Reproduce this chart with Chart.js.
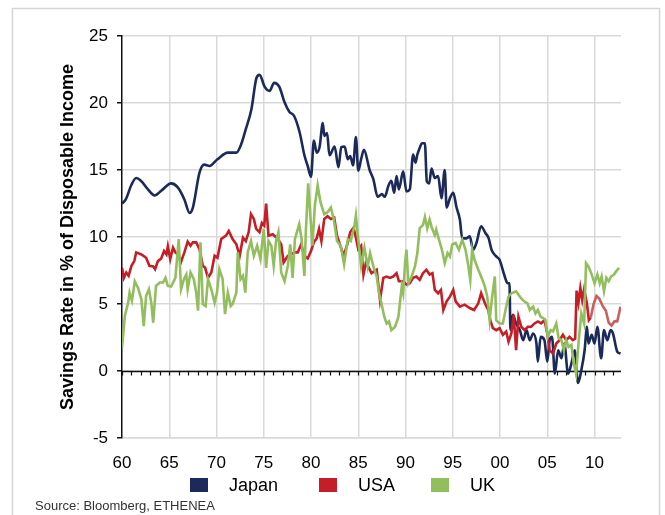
<!DOCTYPE html>
<html>
<head>
<meta charset="utf-8">
<script src="https://cdn.jsdelivr.net/npm/chart.js@4.4.0/dist/chart.umd.min.js"></script>
<style>
  html, body { margin: 0; padding: 0; background: #fff; }
</style>
</head>
<body>
<canvas id="savingsChart" width="665" height="515"></canvas>
<script>
// savings rate in % of disposable income, [year, value]
var japanData = [
  [1960.0,12.5],[1960.4,12.8],[1961.0,13.9],[1961.5,14.4],[1962.0,14.2],[1962.7,13.6],[1963.45,13.1],[1964.15,13.45],
  [1965.2,14.0],[1965.9,13.7],[1966.6,12.8],[1967.15,11.8],[1967.5,12.2],[1968.2,14.8],[1968.7,15.4],[1969.25,15.3],
  [1970.1,15.8],[1971.2,16.3],[1972.1,16.3],[1972.6,16.9],[1973.1,18.05],[1973.7,19.55],[1974.2,21.8],[1974.55,22.1],
  [1975.1,21.2],[1975.6,20.9],[1976.1,21.5],[1976.65,21.2],[1977.2,20.05],[1977.7,19.35],[1978.2,19.05],[1978.8,17.8],
  [1979.3,16.1],[1979.65,15.3],[1980.0,14.5],[1980.3,17.2],[1980.6,16.3],[1980.9,16.7],[1981.25,18.5],[1981.4,17.55],
  [1981.7,17.75],[1981.95,16.1],[1982.5,16.75],[1982.9,15.2],[1983.2,16.7],[1983.55,16.75],[1983.9,15.8],[1984.15,16.05],
  [1984.45,15.35],[1984.75,17.45],[1985.0,14.95],[1985.3,15.8],[1985.6,16.5],[1986.2,15.0],[1986.6,14.3],[1987.05,13.0],
  [1987.5,13.2],[1987.8,13.0],[1988.2,13.85],[1988.5,14.2],[1988.8,13.3],[1989.05,14.55],[1989.3,13.55],[1989.75,14.9],
  [1990.1,13.4],[1990.45,13.55],[1990.8,16.15],[1991.05,15.55],[1991.25,16.15],[1991.5,16.65],[1991.75,17.0],[1992.05,17.0],
  [1992.25,14.15],[1992.5,14.0],[1992.75,15.1],[1993.1,14.4],[1993.45,14.55],[1993.8,12.9],[1994.15,15.0],[1994.35,12.2],
  [1994.7,12.9],[1995.05,13.3],[1995.4,12.2],[1995.75,11.3],[1996.0,9.9],[1996.45,9.9],[1996.8,10.05],[1997.15,9.05],
  [1997.5,9.55],[1998.0,10.8],[1998.45,10.3],[1998.8,9.9],[1999.1,9.05],[1999.6,8.55],[1999.95,8.3],[2000.5,7.05],
  [2000.8,6.55],[2001.0,6.55],[2001.1,3.05],[2001.35,4.2],[2001.7,3.55],[2002.1,3.05],[2002.45,2.3],[2002.8,3.05],
  [2003.15,2.3],[2003.5,2.8],[2003.85,2.05],[2004.0,0.7],[2004.3,2.55],[2004.7,2.3],[2005.0,0.7],[2005.25,2.3],
  [2005.5,2.55],[2005.8,-0.2],[2006.15,1.55],[2006.5,0.95],[2006.8,2.05],[2007.2,-0.2],[2007.55,0.55],[2007.9,1.55],
  [2008.25,-0.9],[2008.6,0.05],[2008.95,1.55],[2009.2,3.3],[2009.35,2.05],[2009.7,2.7],[2010.0,2.05],[2010.3,3.3],
  [2010.7,0.95],[2011.0,3.05],[2011.35,2.3],[2011.7,3.05],[2011.95,2.8],[2012.4,1.45],[2012.75,1.3]
];

var usaData = [
  [1960.0,7.7],[1960.2,6.95],[1960.45,7.35],[1960.7,7.1],[1961.0,7.85],[1961.3,8.2],[1961.5,8.85],[1962.05,8.7],
  [1962.55,8.45],[1962.9,7.85],[1963.3,7.8],[1963.5,7.6],[1963.8,8.2],[1964.15,8.4],[1964.45,8.95],[1964.7,8.7],
  [1964.85,9.3],[1965.1,8.35],[1965.4,9.2],[1965.65,8.85],[1965.9,8.7],[1966.25,8.15],[1966.6,8.85],[1966.95,9.65],
  [1967.25,9.35],[1967.5,9.6],[1967.85,9.6],[1968.2,9.1],[1968.55,7.85],[1968.8,7.7],[1969.1,6.95],[1969.45,7.35],
  [1969.8,8.6],[1970.1,8.45],[1970.5,9.85],[1971.0,10.1],[1971.3,10.45],[1971.7,9.85],[1972.1,9.45],[1972.45,8.6],
  [1972.8,9.95],[1973.1,9.7],[1973.4,10.35],[1973.65,11.7],[1973.95,11.35],[1974.2,10.6],[1974.55,10.35],[1974.8,11.05],
  [1975.05,10.85],[1975.25,12.5],[1975.5,10.1],[1975.95,10.2],[1976.5,9.85],[1976.85,9.45],[1977.1,8.1],[1977.55,8.6],
  [1977.9,8.7],[1978.25,8.85],[1978.6,8.85],[1978.95,9.45],[1979.3,8.6],[1979.65,8.4],[1980.0,8.95],[1980.3,9.6],
  [1980.6,9.9],[1980.85,10.6],[1981.1,9.7],[1981.4,11.35],[1981.75,11.55],[1982.1,11.35],[1982.45,11.45],[1982.75,10.1],
  [1983.1,9.35],[1983.45,8.6],[1983.8,9.35],[1984.15,10.35],[1984.5,10.7],[1984.75,9.95],[1985.0,9.1],[1985.3,9.35],
  [1985.55,7.2],[1985.8,8.05],[1986.05,7.8],[1986.4,7.3],[1986.95,7.55],[1987.3,5.3],[1987.65,6.95],[1988.0,7.05],
  [1988.35,6.95],[1988.7,7.05],[1989.05,7.3],[1989.3,6.7],[1989.75,6.7],[1990.1,6.45],[1990.45,6.55],[1990.8,6.95],
  [1991.15,7.05],[1991.5,6.8],[1991.85,7.3],[1992.2,7.55],[1992.55,7.2],[1992.85,7.3],[1993.1,6.05],[1993.45,5.8],
  [1993.75,6.05],[1994.0,4.55],[1994.35,5.2],[1994.7,5.55],[1995.05,6.05],[1995.3,5.2],[1995.75,4.8],[1996.25,4.95],
  [1996.8,4.7],[1997.25,4.55],[1997.7,5.05],[1998.0,5.8],[1998.4,5.05],[1998.75,4.55],[1999.0,3.7],[1999.25,3.2],
  [1999.6,3.05],[1999.95,3.2],[2000.3,2.7],[2000.65,2.95],[2000.9,2.2],[2001.2,2.8],[2001.45,4.2],[2001.7,1.55],
  [2001.95,4.05],[2002.25,3.3],[2002.6,3.05],[2002.95,3.3],[2003.3,3.3],[2003.65,3.55],[2004.0,3.7],[2004.35,3.55],
  [2004.7,3.8],[2005.0,2.8],[2005.25,1.55],[2005.6,1.3],[2005.95,2.05],[2006.3,2.3],[2006.65,2.7],[2007.0,2.3],
  [2007.35,2.55],[2007.7,2.3],[2007.95,2.4],[2008.1,6.0],[2008.3,5.1],[2008.5,6.2],[2008.7,5.3],[2008.9,6.1],
  [2009.2,5.0],[2009.4,3.8],[2009.6,4.0],[2009.9,5.0],[2010.2,5.6],[2010.5,5.4],[2010.9,4.8],[2011.2,4.5],
  [2011.5,3.6],[2011.8,3.4],[2012.1,3.7],[2012.4,3.7],[2012.75,4.8]
];

var ukData = [
  [1960.0,1.75],[1960.3,4.1],[1960.65,5.1],[1960.8,5.85],[1961.05,5.25],[1961.35,6.7],[1961.7,6.2],[1962.05,5.35],
  [1962.3,3.35],[1962.55,5.6],[1962.85,6.1],[1963.1,5.1],[1963.3,3.6],[1963.6,6.35],[1964.0,6.6],[1964.35,6.6],
  [1964.6,6.95],[1964.85,6.35],[1965.2,6.3],[1965.65,6.95],[1966.0,9.85],[1966.25,6.1],[1966.55,6.85],[1966.8,7.2],
  [1966.95,6.1],[1967.25,7.35],[1967.6,6.85],[1967.85,5.85],[1968.05,4.5],[1968.3,9.6],[1968.55,5.0],[1968.85,4.85],
  [1969.1,6.85],[1969.45,6.1],[1969.8,5.1],[1970.05,5.85],[1970.3,7.6],[1970.65,6.85],[1970.9,4.25],[1971.2,5.85],
  [1971.5,4.85],[1971.7,5.0],[1972.1,5.85],[1972.25,8.85],[1972.55,6.85],[1972.8,7.1],[1973.05,5.85],[1973.3,8.85],
  [1973.65,9.7],[1973.95,8.6],[1974.3,9.35],[1974.65,8.35],[1975.0,10.6],[1975.25,7.7],[1975.5,9.7],[1975.8,9.35],
  [1976.05,7.85],[1976.3,9.7],[1976.55,10.35],[1976.85,7.35],[1977.2,6.7],[1977.55,7.85],[1977.8,9.45],[1978.05,6.95],
  [1978.3,9.85],[1978.75,10.95],[1979.0,9.85],[1979.3,7.1],[1979.45,10.35],[1979.7,14.0],[1980.0,10.85],[1980.15,9.35],
  [1980.4,12.3],[1980.7,13.85],[1981.0,12.6],[1981.4,11.7],[1981.75,11.85],[1982.1,12.2],[1982.4,11.35],[1982.75,9.7],
  [1983.15,9.35],[1983.5,7.95],[1983.9,9.85],[1984.2,9.7],[1984.6,10.85],[1984.75,11.6],[1984.95,10.1],[1985.3,7.85],
  [1985.65,9.2],[1986.0,7.8],[1986.25,8.8],[1986.6,7.8],[1986.95,7.05],[1987.2,5.8],[1987.45,5.05],[1987.75,4.05],
  [1988.0,3.55],[1988.25,3.7],[1988.5,3.05],[1988.9,3.3],[1989.25,4.05],[1989.4,5.05],[1989.6,6.3],[1989.75,5.8],
  [1989.95,8.05],[1990.1,9.05],[1990.3,6.55],[1990.65,7.05],[1991.0,7.8],[1991.25,8.8],[1991.5,10.65],[1991.85,10.9],
  [1992.05,11.5],[1992.3,10.65],[1992.55,11.3],[1992.8,10.65],[1993.1,10.15],[1993.25,10.55],[1993.5,9.9],[1993.85,9.05],
  [1994.15,8.05],[1994.45,8.8],[1994.7,8.55],[1994.95,9.45],[1995.3,9.55],[1995.65,9.05],[1996.0,9.8],[1996.35,9.05],
  [1996.6,8.05],[1996.85,6.8],[1997.05,9.05],[1997.3,8.3],[1997.7,7.55],[1998.0,7.05],[1998.4,6.3],[1998.65,5.55],
  [1998.9,3.8],[1999.15,5.45],[1999.45,7.05],[1999.6,3.8],[1999.95,3.55],[2000.3,3.55],[2000.65,4.8],[2000.9,5.55],
  [2001.2,5.8],[2001.7,5.95],[2002.2,5.45],[2002.55,5.2],[2002.9,5.05],[2003.15,4.55],[2003.5,4.8],[2003.75,4.3],
  [2004.0,4.55],[2004.3,4.05],[2004.55,3.95],[2004.8,3.8],[2005.05,2.55],[2005.35,3.05],[2005.6,2.95],[2005.95,3.55],
  [2006.2,2.45],[2006.5,2.3],[2006.75,1.55],[2007.0,2.3],[2007.25,1.8],[2007.55,1.95],[2007.8,0.55],[2008.05,-0.2],
  [2008.3,2.05],[2008.6,4.3],[2008.9,3.55],[2009.1,8.05],[2009.35,7.8],[2009.65,7.3],[2010.0,6.55],[2010.3,7.2],
  [2010.55,6.55],[2010.75,7.05],[2011.0,5.95],[2011.25,6.95],[2011.5,6.7],[2011.75,7.05],[2012.05,7.2],[2012.3,7.45],
  [2012.6,7.7]
];

var seriesNames = ["Japan", "USA", "UK"];
var yearTicks = [1960, 1965, 1970, 1975, 1980, 1985, 1990, 1995, 2000, 2005, 2010];
var fontFam = "'Liberation Sans', Arial, sans-serif";

var navy = "#1b2a5a";
var red = "#c41e26";
var redLight = "#c9605d";
var green = "#92be5e";

function toPoints(arr) {
  return arr.map(function (p) { return { x: p[0], y: p[1] }; });
}

// frame, zero line with year ticks, legend and source
var extras = {
  id: 'extras',
  beforeDraw: function (chart) {
    var c = chart.ctx;
    c.save();
    c.fillStyle = '#fff';
    c.fillRect(0, 0, chart.width, chart.height);
    c.strokeStyle = '#d6d6d6';
    c.lineWidth = 1.5;
    c.beginPath();
    c.moveTo(12.5, 530);
    c.lineTo(12.5, 8.5);
    c.lineTo(659.5, 8.5);
    c.lineTo(659.5, 530);
    c.stroke();
    c.restore();
  },
  beforeDatasetsDraw: function (chart) {
    var xs = chart.scales.x, ys = chart.scales.y, c = chart.ctx;
    var y0 = Math.round(ys.getPixelForValue(0)) + 0.5;
    c.save();
    c.strokeStyle = '#111';
    c.lineWidth = 1.5;
    c.beginPath();
    c.moveTo(xs.left, y0);
    c.lineTo(xs.right, y0);
    c.stroke();
    c.lineWidth = 1.2;
    c.beginPath();
    for (var yr = 1960; yr <= 2012; yr++) {
      var px = Math.round(xs.getPixelForValue(yr)) + 0.5;
      c.moveTo(px, y0);
      c.lineTo(px, y0 + 4);
    }
    c.stroke();
    c.restore();
  },
  afterDraw: function (chart) {
    var c = chart.ctx;
    var legendX = [190, 319, 431];
    var boxColors = [navy, red, green];
    c.save();
    c.font = '18px ' + fontFam;
    c.textBaseline = 'middle';
    c.textAlign = 'left';
    for (var i = 0; i < seriesNames.length; i++) {
      c.fillStyle = boxColors[i];
      c.fillRect(legendX[i], 478, 18, 14);
      c.fillStyle = '#000';
      c.fillText(seriesNames[i], legendX[i] + 39, 486);
    }
    c.font = '13px ' + fontFam;
    c.fillStyle = '#333';
    c.textBaseline = 'alphabetic';
    c.fillText('Source: Bloomberg, ETHENEA', 35, 510);
    c.restore();
  }
};

var canvas = document.getElementById("savingsChart");
var savingsChart = new Chart(canvas, {
  type: 'line',
  data: {
    datasets: [
      {
        label: seriesNames[0],
        data: toPoints(japanData),
        borderColor: navy,
        borderWidth: 2.6,
        pointRadius: 0,
        cubicInterpolationMode: 'monotone',
        fill: false,
        order: 3
      },
      {
        label: seriesNames[1],
        data: toPoints(usaData),
        borderColor: red,
        borderWidth: 2.6,
        pointRadius: 0,
        lineTension: 0,
        fill: false,
        order: 2,
        segment: {
          borderColor: function (ctx) { return ctx.p0.parsed.x >= 2009.6 ? redLight : red; }
        }
      },
      {
        label: seriesNames[2],
        data: toPoints(ukData),
        borderColor: green,
        borderWidth: 2.6,
        pointRadius: 0,
        lineTension: 0,
        fill: false,
        order: 1
      }
    ]
  },
  options: {
    responsive: false,
    animation: false,
    layout: { padding: { left: 0, right: 44, top: 36, bottom: 47 } },
    plugins: {
      legend: { display: false },
      tooltip: { enabled: false }
    },
    scales: {
      x: {
        type: 'linear',
        min: 1960,
        max: 2012.8,
        afterBuildTicks: function (scale) {
          scale.ticks = yearTicks.map(function (v) { return { value: v }; });
        },
        afterFit: function (scale) { scale.height = 30; },
        ticks: {
          autoSkip: false,
          maxRotation: 0,
          padding: 15,
          color: '#000',
          font: { size: 17, family: fontFam },
          callback: function (v) { return String(v % 100).padStart(2, '0'); }
        },
        grid: {
          color: function (ctx) { return ctx.tick && ctx.tick.value === 1960 ? 'rgba(0,0,0,0)' : '#d9d9d9'; },
          lineWidth: 1.5,
          drawTicks: false
        },
        border: { color: '#d9d9d9', width: 1.5 }
      },
      y: {
        min: -5,
        max: 25,
        afterFit: function (scale) { scale.width = 122; },
        ticks: {
          stepSize: 5,
          padding: 9,
          color: '#000',
          font: { size: 17, family: fontFam }
        },
        grid: {
          color: '#d9d9d9',
          lineWidth: 1.5,
          tickColor: '#111',
          tickLength: 5,
          tickWidth: 1.5
        },
        border: { color: '#111', width: 1.5 },
        title: {
          display: true,
          text: 'Savings Rate in % of Disposable Income',
          color: '#000',
          font: { size: 18, weight: 'bold', family: fontFam },
          padding: { top: 57, bottom: 0 }
        }
      }
    }
  },
  plugins: [extras]
});
</script>
</body>
</html>
